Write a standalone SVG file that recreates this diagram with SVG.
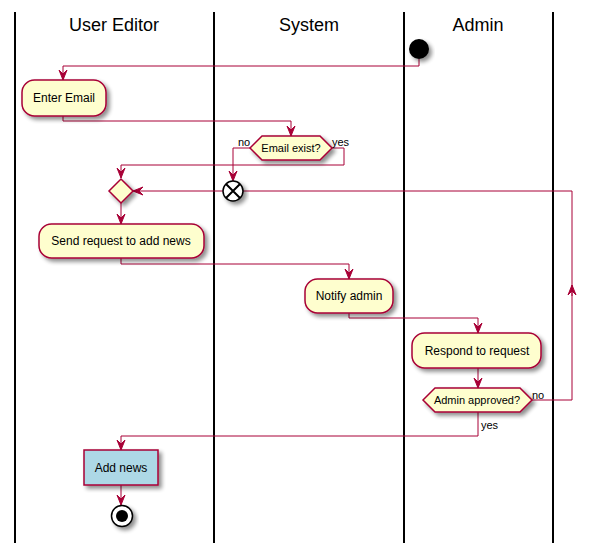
<svg xmlns="http://www.w3.org/2000/svg" width="596" height="554" viewBox="0 0 596 554">
<defs>
<filter id="sh" x="-20%" y="-20%" width="150%" height="160%">
<feGaussianBlur in="SourceAlpha" stdDeviation="2"/>
<feOffset dx="3" dy="3" result="b"/>
<feComponentTransfer><feFuncA type="linear" slope="0.45"/></feComponentTransfer>
<feMerge><feMergeNode/><feMergeNode in="SourceGraphic"/></feMerge>
</filter>
<marker id="ah" markerUnits="userSpaceOnUse" markerWidth="12" markerHeight="10" refX="10" refY="4" orient="auto" overflow="visible">
<path d="M0,0 L10,4 L0,8 L4,4 Z" fill="#A80036" stroke="#A80036" stroke-width="1"/>
</marker>
</defs>
<style>
.lane{stroke:#000;stroke-width:2;}
.title{font-family:"Liberation Sans",Arial,sans-serif;font-size:18px;text-anchor:middle;fill:#000;}
.act{fill:#FEFECE;stroke:#A80036;stroke-width:1.5;filter:url(#sh);}
.txt{font-family:"Liberation Sans",Arial,sans-serif;font-size:12px;text-anchor:middle;fill:#000;}
.lbl{font-family:"Liberation Sans",Arial,sans-serif;font-size:11px;fill:#000;}
.con{fill:none;stroke:#A80036;stroke-width:1;}
.arr{fill:none;stroke:#A80036;stroke-width:1;marker-end:url(#ah);}
</style>
<rect width="596" height="554" fill="#fff"/>
<g id="lanes">
<line class="lane" x1="15" y1="12" x2="15" y2="543"/>
<line class="lane" x1="214" y1="12" x2="214" y2="543"/>
<line class="lane" x1="404" y1="12" x2="404" y2="543"/>
<line class="lane" x1="553" y1="12" x2="553" y2="543"/>
<text class="title" x="114" y="31">User Editor</text>
<text class="title" x="309" y="31">System</text>
<text class="title" x="478" y="31">Admin</text>
</g>
<g id="connectors">
<polyline class="arr" points="419,59 419,66 63,66 63,80"/>
<polyline class="arr" points="63,116 63,121 291,121 291,136"/>
<polyline class="arr" points="250,148 233,148 233,181"/>
<polyline class="arr" points="332,148 344,148 344,165 121,165 121,178"/>
<polyline class="con" points="532,400 572,400 572,191"/>
<polyline class="arr" points="572,296 572,285"/>
<polyline class="arr" points="572,191 133,191"/>
<polyline class="arr" points="121,202 121,224"/>
<polyline class="arr" points="121,258 121,264 349,264 349,279"/>
<polyline class="arr" points="349,313 349,318 478,318 478,333"/>
<polyline class="arr" points="478,368 478,388"/>
<polyline class="arr" points="478,412 478,436 121,436 121,450"/>
<polyline class="arr" points="121,485 121,505"/>
<text class="lbl" x="238" y="146">no</text>
<text class="lbl" x="332" y="146">yes</text>
<text class="lbl" x="532" y="399">no</text>
<text class="lbl" x="481" y="429">yes</text>
</g>
<g id="start">
<circle cx="419" cy="49" r="10" fill="#000" filter="url(#sh)"/>
</g>
<g id="enter-email">
<rect class="act" x="22" y="80" width="84" height="36" rx="12.5"/>
<text class="txt" x="64" y="102">Enter Email</text>
</g>
<g id="email-exist">
<polygon class="act" points="250,148 262,136 320,136 332,148 320,160 262,160"/>
<text class="lbl" x="291" y="152" text-anchor="middle">Email exist?</text>
</g>
<g id="stop-x">
<circle cx="233" cy="191" r="10" fill="#fff" stroke="#000" stroke-width="1.5" filter="url(#sh)"/>
<path d="M226,184 L240,198 M240,184 L226,198" stroke="#000" stroke-width="2"/>
</g>
<g id="merge">
<polygon class="act" points="121,179 133,191 121,203 109,191"/>
</g>
<g id="send-request">
<rect class="act" x="39" y="224" width="165" height="34" rx="12.5"/>
<text class="txt" x="121" y="245">Send request to add news</text>
</g>
<g id="notify-admin">
<rect class="act" x="305" y="279" width="88" height="34" rx="12.5"/>
<text class="txt" x="349" y="300">Notify admin</text>
</g>
<g id="respond">
<rect class="act" x="412" y="333" width="129" height="35" rx="12.5"/>
<text class="txt" x="477" y="355">Respond to request</text>
</g>
<g id="admin-approved">
<polygon class="act" points="423,400 435,388 520,388 532,400 520,412 435,412"/>
<text class="lbl" x="477" y="404" text-anchor="middle">Admin approved?</text>
</g>
<g id="add-news">
<rect x="84" y="450" width="74" height="35" fill="#ADD8E6" stroke="#A80036" stroke-width="1.5" filter="url(#sh)"/>
<text class="txt" x="121" y="472">Add news</text>
</g>
<g id="end">
<circle cx="122" cy="516" r="10.5" fill="#fff" stroke="#000" stroke-width="1.5" filter="url(#sh)"/>
<circle cx="122" cy="516" r="6" fill="#000"/>
</g>
</svg>
